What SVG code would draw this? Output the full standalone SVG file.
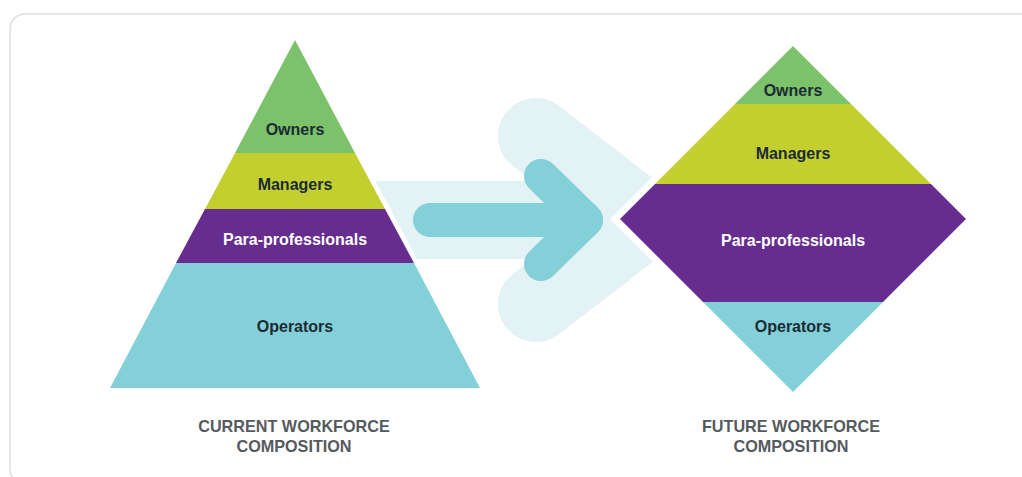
<svg xmlns="http://www.w3.org/2000/svg" width="1022" height="477" viewBox="0 0 1022 477">
<style>
.lbl{font-family:"Liberation Sans",Arial,sans-serif;font-weight:bold;font-size:16px;text-anchor:middle;fill:#1c2b33}
.wlbl{fill:#ffffff}
.cap{font-family:"Liberation Sans",Arial,sans-serif;font-weight:bold;font-size:16.2px;text-anchor:middle;fill:#555a5e}
.light{fill:none;stroke:#e3f2f5;stroke-linecap:round;stroke-linejoin:round}
.dark{fill:none;stroke:#83d0d8;stroke-linecap:round;stroke-linejoin:round}
</style>
<rect x="0" y="0" width="1022" height="477" fill="#ffffff"/>
<rect x="10" y="14" width="1040" height="470" rx="15" fill="#ffffff" stroke="#dedede" stroke-width="1.5"/>
<g id="connectors">
  <rect x="360" y="181" width="250" height="78" fill="#e3f2f5"/>
  <polyline class="light" stroke-width="76" points="536,136 645,220 536,304"/>
  <line class="dark" stroke-width="34" x1="430" y1="220" x2="586" y2="220"/>
  <polyline class="dark" stroke-width="34" points="541,176 586,220 541,264"/>
</g>
<g id="current">
  <polygon points="295,40 480,388 110,388" fill="#ffffff" stroke="#ffffff" stroke-width="10" stroke-linejoin="miter"/>
  <g id="cur-owners">
    <polygon points="295,40 355,153 235,153" fill="#7bc26b"/>
    <text class="lbl" x="295" y="135">Owners</text>
  </g>
  <g id="cur-managers">
    <polygon points="235,153 355,153 385,209 205,209" fill="#c3cf2f"/>
    <text class="lbl" x="295" y="190">Managers</text>
  </g>
  <g id="cur-para">
    <polygon points="205,209 385,209 414,263 176,263" fill="#662d8f"/>
    <text class="lbl wlbl" x="295" y="245">Para-professionals</text>
  </g>
  <g id="cur-operators">
    <polygon points="176,263 414,263 480,388 110,388" fill="#83d0d8"/>
    <text class="lbl" x="295" y="332">Operators</text>
  </g>
  <text class="cap" x="294" y="432">CURRENT WORKFORCE</text>
  <text class="cap" x="294" y="452">COMPOSITION</text>
</g>
<g id="future">
  <polygon points="793,46 966,219 793,392 620,219" fill="#ffffff" stroke="#ffffff" stroke-width="14" stroke-linejoin="miter"/>
  <g id="fut-owners">
    <polygon points="793,46 851,104 735,104" fill="#7bc26b"/>
    <text class="lbl" x="793" y="96">Owners</text>
  </g>
  <g id="fut-managers">
    <polygon points="735,104 851,104 931,184 655,184" fill="#c3cf2f"/>
    <text class="lbl" x="793" y="159">Managers</text>
  </g>
  <g id="fut-para">
    <polygon points="655,184 931,184 966,219 883,302 703,302 620,219" fill="#662d8f"/>
    <text class="lbl wlbl" x="793" y="246">Para-professionals</text>
  </g>
  <g id="fut-operators">
    <polygon points="703,302 883,302 793,392" fill="#83d0d8"/>
    <text class="lbl" x="793" y="332">Operators</text>
  </g>
  <text class="cap" x="791" y="432">FUTURE WORKFORCE</text>
  <text class="cap" x="791" y="452">COMPOSITION</text>
</g>
</svg>
